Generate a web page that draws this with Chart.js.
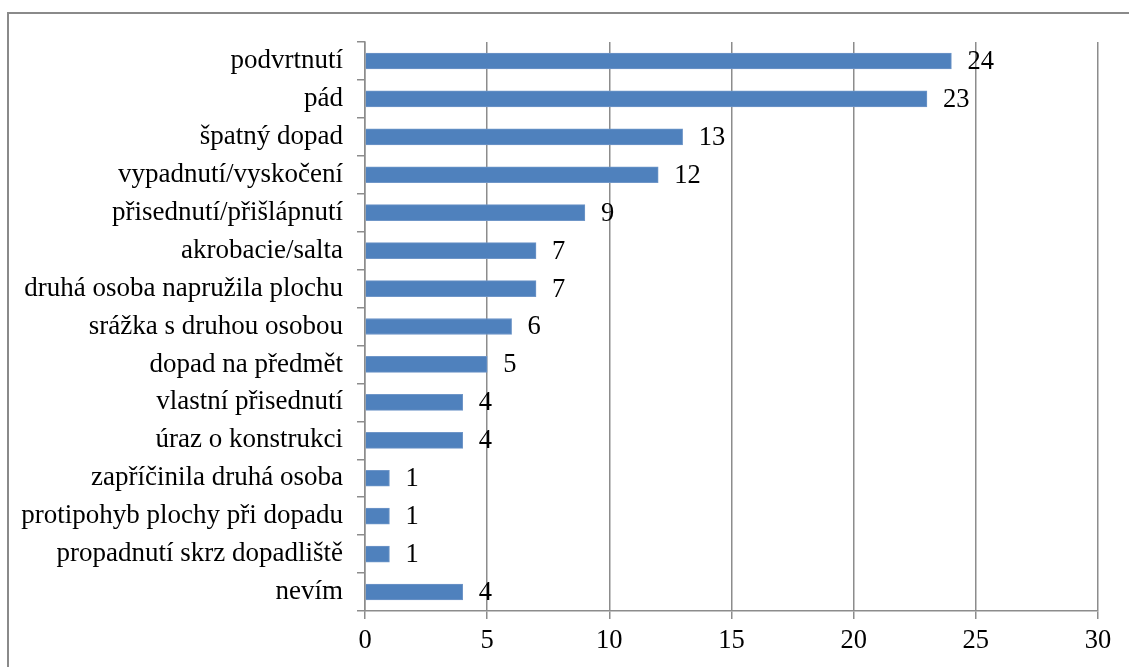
<!DOCTYPE html>
<html>
<head>
<meta charset="utf-8">
<script src="https://cdn.jsdelivr.net/npm/chart.js@4.4.0/dist/chart.umd.min.js"></script>
<style>
  body { margin: 0; background: #fff; }
  #wrap { position: relative; width: 1129px; height: 667px; }
</style>
</head>
<body>
<div id="wrap"><canvas id="myChart" width="1129" height="667"></canvas></div>
<script>
var categories = [
    'podvrtnutí',
    'pád',
    'špatný dopad',
    'vypadnutí/vyskočení',
    'přisednutí/přišlápnutí',
    'akrobacie/salta',
    'druhá osoba napružila plochu',
    'srážka s druhou osobou',
    'dopad na předmět',
    'vlastní přisednutí',
    'úraz o konstrukci',
    'zapříčinila druhá osoba',
    'protipohyb plochy při dopadu',
    'propadnutí skrz dopadliště',
    'nevím'
];
var counts = [24, 23, 13, 12, 9, 7, 7, 6, 5, 4, 4, 1, 1, 1, 4];
var xTicks = [0, 5, 10, 15, 20, 25, 30];

const gridGray = '#8c8c8c';
const serif = "'Liberation Serif', 'Times New Roman', serif";

// value labels next to each bar end
const valueLabels = {
    id: 'valueLabels',
    afterDatasetsDraw(chart) {
        const ctx = chart.ctx;
        const meta = chart.getDatasetMeta(0);
        ctx.save();
        ctx.font = '26.5px ' + serif;
        ctx.fillStyle = '#000';
        ctx.textAlign = 'left';
        ctx.textBaseline = 'middle';
        meta.data.forEach((bar, i) => {
            ctx.fillText(String(counts[i]), bar.x + 16, bar.y + 1);
        });
        ctx.restore();
    }
};

// outer frame
const frame = {
    id: 'frame',
    beforeDraw(chart) {
        const ctx = chart.ctx;
        ctx.save();
        ctx.strokeStyle = '#8a8a8a';
        ctx.lineWidth = 2;
        ctx.strokeRect(8, 13, 1130, 700);
        ctx.restore();
    }
};

var ctx = document.getElementById('myChart').getContext('2d');

var myChart = new Chart(ctx, {
    type: 'bar',
    data: {
        labels: categories,
        datasets: [{
            data: counts,
            backgroundColor: '#4f81bd',
            borderColor: '#6f96c8',
            borderWidth: 1,
            barThickness: 16
        }]
    },
    options: {
        indexAxis: 'y',
        responsive: false,
        animation: false,
        layout: { padding: { left: 0, top: 42, right: 31, bottom: 0 } },
        plugins: {
            legend: { display: false },
            tooltip: { enabled: false }
        },
        scales: {
            x: {
                min: 0,
                max: 30,
                afterBuildTicks: (axis) => {
                    axis.ticks = xTicks.map(v => ({ value: v }));
                },
                afterFit: (axis) => { axis.height = 56; },
                grid: { color: gridGray, lineWidth: 1.5, tickLength: 8 },
                border: { color: gridGray, width: 1.5 },
                ticks: {
                    color: '#000',
                    padding: 6,
                    font: { family: serif, size: 26.5 }
                }
            },
            y: {
                afterFit: (axis) => { axis.width = 365; },
                grid: { color: gridGray, lineWidth: 1.5, tickLength: 8, drawOnChartArea: false, offset: true },
                border: { color: gridGray, width: 1.5 },
                ticks: {
                    color: '#000',
                    padding: 14,
                    autoSkip: false,
                    font: { family: serif, size: 27 }
                }
            }
        }
    },
    plugins: [frame, valueLabels]
});
</script>
</body>
</html>
